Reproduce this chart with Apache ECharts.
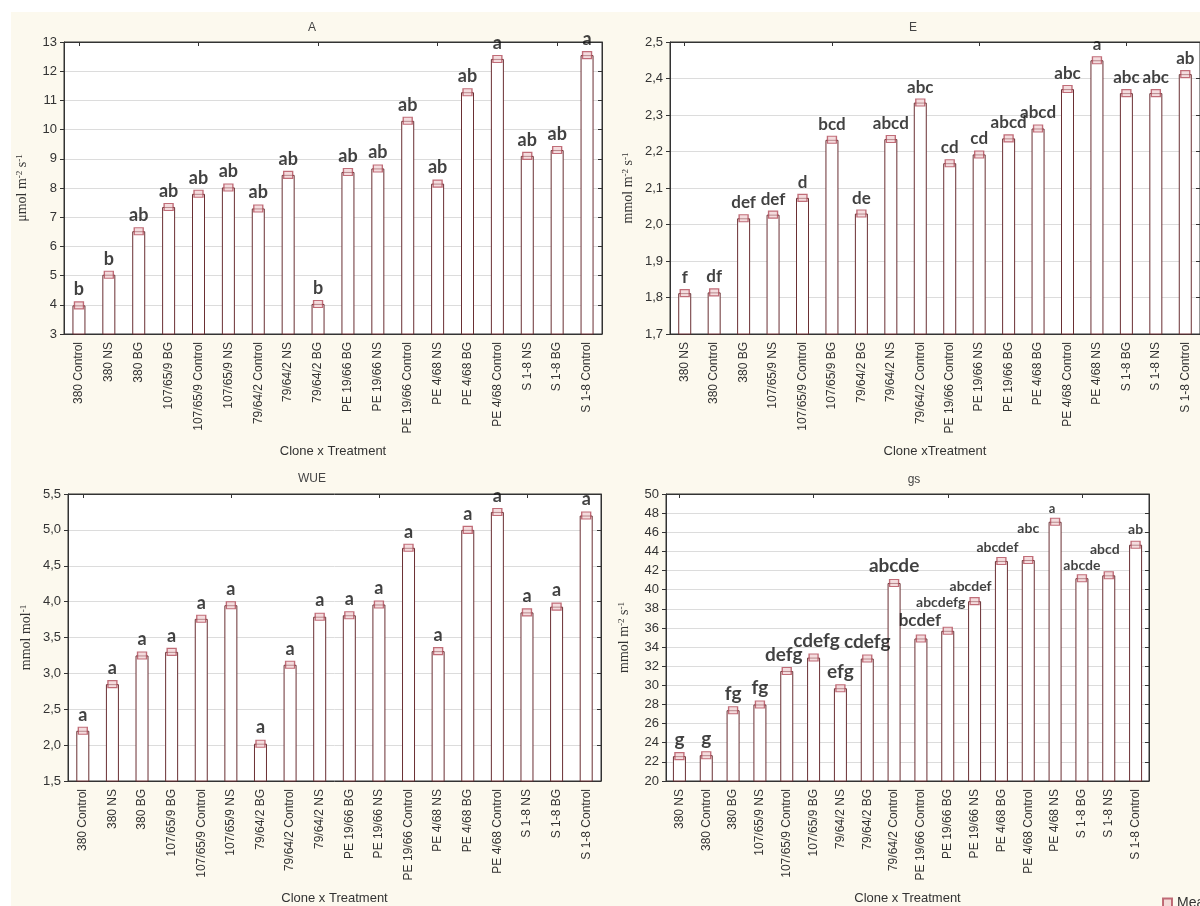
<!DOCTYPE html>
<html>
<head>
<meta charset="utf-8">
<script src="https://cdn.jsdelivr.net/npm/echarts@6/dist/echarts.min.js"></script>
<style>
  html, body { margin: 0; padding: 0; background: #ffffff; }
  #wrap { position: relative; width: 1200px; height: 906px; overflow: hidden; background: #ffffff; }
  #paper { position: absolute; left: 11px; top: 12px; right: 0; bottom: 0; background: #fcf9ee; }
  #chart { position: absolute; left: 0; top: 0; width: 1200px; height: 906px; }
</style>
</head>
<body>
<div id="wrap"><div id="paper"></div><div id="chart"></div></div>
<script>
// ---- A: net photosynthesis ----
const catA = ['380 Control', '380 NS', '380 BG', '107/65/9 BG', '107/65/9 Control', '107/65/9 NS',
  '79/64/2 Control', '79/64/2 NS', '79/64/2 BG', 'PE 19/66 BG', 'PE 19/66 NS', 'PE 19/66 Control',
  'PE 4/68 NS', 'PE 4/68 BG', 'PE 4/68 Control', 'S 1-8 NS', 'S 1-8 BG', 'S 1-8 Control'];
const valA = [3.98, 5.03, 6.52, 7.35, 7.8, 8.02, 7.3, 8.45, 4.03, 8.55, 8.67, 10.3, 8.15, 11.28, 12.42, 9.1, 9.3, 12.55];
const letA = ['b', 'b', 'ab', 'ab', 'ab', 'ab', 'ab', 'ab', 'b', 'ab', 'ab', 'ab', 'ab', 'ab', 'a', 'ab', 'ab', 'a'];

// ---- E: transpiration ----
const catE = ['380 NS', '380 Control', '380 BG', '107/65/9 NS', '107/65/9 Control', '107/65/9 BG',
  '79/64/2 BG', '79/64/2 NS', '79/64/2 Control', 'PE 19/66 Control', 'PE 19/66 NS', 'PE 19/66 BG',
  'PE 4/68 BG', 'PE 4/68 Control', 'PE 4/68 NS', 'S 1-8 BG', 'S 1-8 NS', 'S 1-8 Control'];
const valE = [1.812, 1.814, 2.017, 2.027, 2.073, 2.232, 2.03, 2.234, 2.334, 2.168, 2.192, 2.236, 2.263, 2.371, 2.45, 2.36, 2.36, 2.412];
const letE = ['f', 'df', 'def', 'def', 'd', 'bcd', 'de', 'abcd', 'abc', 'cd', 'cd', 'abcd', 'abcd', 'abc', 'a', 'abc', 'abc', 'ab'];

// ---- WUE: water use efficiency ----
const catW = ['380 Control', '380 NS', '380 BG', '107/65/9 BG', '107/65/9 Control', '107/65/9 NS',
  '79/64/2 BG', '79/64/2 Control', '79/64/2 NS', 'PE 19/66 BG', 'PE 19/66 NS', 'PE 19/66 Control',
  'PE 4/68 NS', 'PE 4/68 BG', 'PE 4/68 Control', 'S 1-8 NS', 'S 1-8 BG', 'S 1-8 Control'];
const valW = [2.2, 2.85, 3.25, 3.3, 3.76, 3.95, 2.02, 3.12, 3.79, 3.81, 3.96, 4.75, 3.31, 5.0, 5.25, 3.85, 3.93, 5.2];
const letW = ['a', 'a', 'a', 'a', 'a', 'a', 'a', 'a', 'a', 'a', 'a', 'a', 'a', 'a', 'a', 'a', 'a', 'a'];

// ---- gs: stomatal conductance ----
const catG = ['380 NS', '380 Control', '380 BG', '107/65/9 NS', '107/65/9 Control', '107/65/9 BG',
  '79/64/2 NS', '79/64/2 BG', '79/64/2 Control', 'PE 19/66 Control', 'PE 19/66 BG', 'PE 19/66 NS',
  'PE 4/68 BG', 'PE 4/68 Control', 'PE 4/68 NS', 'S 1-8 BG', 'S 1-8 NS', 'S 1-8 Control'];
const valG = [22.6, 22.7, 27.4, 28.0, 31.5, 32.9, 29.7, 32.8, 40.7, 34.9, 35.7, 38.8, 43.0, 43.1, 47.1, 41.2, 41.5, 44.7];
const letG = ['g', 'g', 'fg', 'fg', 'defg', 'cdefg', 'efg', 'cdefg', 'abcde', 'bcdef', 'abcdefg', 'abcdef', 'abcdef', 'abc', 'a', 'abcde', 'abcd', 'ab'];

// letter styling for the gs panel (font size, horizontal nudge, distance above mean)
const gsLetterSize = [19, 19, 19, 19, 19, 19, 19, 19, 19, 17, 14, 14, 14, 14, 13, 14, 14, 14];
const gsLetterDx   = [0, 0, 0, 0, -3, 3, 0, 0, 0, -1, -7, -4, -4, 0, -3, 0, -4, 0];
const gsLetterGap  = [3, 3, 3, 3, 3, 3, 3, 3, 4, 5, 17, 4, 2, 20, 2, 2, 15, 4];

const BAR_EDGE = '#6a2f33';
const AXIS = '#333333';
const LETTER_FONT = 'Lato, "Open Sans", sans-serif';
const SANS = '"Liberation Sans", Arial, sans-serif';
const SERIF = '"Liberation Serif", "Times New Roman", serif';

const panels = [
  { cats: catA, vals: valA, letters: letA, min: 3, max: 13, step: 1, dec: 0,
    unit: '{n|\u03bcmol m}{s|-2}{n| s}{s|-1}', xName: 'Clone x Treatment', title: 'A',
    grid: { left: 64, top: 42, width: 538, height: 292 }, titlePos: [312, 28], letterSize: 18 },
  { cats: catE, vals: valE, letters: letE, min: 1.7, max: 2.5, step: 0.1, dec: 1,
    unit: '{n|mmol m}{s|-2}{n| s}{s|-1}', xName: 'Clone xTreatment', title: 'E',
    grid: { left: 670, top: 42, width: 533, height: 292 }, titlePos: [913, 28], letterSize: 17 },
  { cats: catW, vals: valW, letters: letW, min: 1.5, max: 5.5, step: 0.5, dec: 1,
    unit: '{n|mmol mol}{s|-1}', xName: 'Clone x Treatment', title: 'WUE',
    grid: { left: 68, top: 494, width: 533, height: 292 }, titlePos: [312, 479], letterSize: 18 },
  { cats: catG, vals: valG, letters: letG, min: 20, max: 50, step: 2, dec: 0,
    unit: '{n|mmol m}{s|-2}{n| s}{s|-1}', xName: 'Clone x Treatment', title: 'gs',
    grid: { left: 666, top: 494, width: 483, height: 292 }, titlePos: [914, 480], letterSize: 19 }
];

const grid = [], xAxis = [], yAxis = [], series = [], graphic = [];

panels.forEach((p, i) => {
  grid.push(Object.assign({ show: true, backgroundColor: '#ffffff', borderColor: AXIS, borderWidth: 1 }, p.grid));

  // bottom category axis with labels
  xAxis.push({
    type: 'category', gridIndex: i, data: p.cats, position: 'bottom',
    axisLine: { show: true, lineStyle: { color: AXIS, width: 1 } },
    axisTick: { show: true, inside: true, alignWithLabel: true, length: 4, lineStyle: { color: AXIS } },
    axisLabel: { interval: 0, rotate: 90, margin: 8, fontSize: 12, color: '#333', fontFamily: SANS },
    name: p.xName, nameLocation: 'middle', nameGap: 111,
    nameTextStyle: { fontSize: 13, color: '#333', fontFamily: SANS },
    splitLine: { show: false }
  });
  // top frame axis carrying inward ticks only
  xAxis.push({
    type: 'category', gridIndex: i, data: p.cats, position: 'top',
    axisLine: { show: true, lineStyle: { color: AXIS, width: 1 } },
    axisTick: { show: true, inside: true, alignWithLabel: true, length: 4, lineStyle: { color: AXIS } },
    axisLabel: { show: false }, splitLine: { show: false }
  });

  const fmt = v => v.toFixed(p.dec).replace('.', ',');
  yAxis.push({
    type: 'value', gridIndex: i, position: 'left', min: p.min, max: p.max, interval: p.step,
    axisLine: { show: true, lineStyle: { color: AXIS, width: 1 } },
    axisTick: { show: true, inside: false, length: 4, lineStyle: { color: AXIS } },
    axisLabel: { formatter: fmt, margin: 7, fontSize: 13, color: '#333', fontFamily: SANS },
    splitLine: { show: true, lineStyle: { color: '#dcdcdc', width: 1 } },
    name: p.unit, nameLocation: 'middle', nameRotate: 90, nameGap: 35,
    nameTextStyle: {
      color: '#333', fontFamily: SERIF, fontSize: 14,
      rich: {
        n: { fontFamily: SERIF, fontSize: 14, color: '#333' },
        s: { fontFamily: SERIF, fontSize: 9, color: '#333', verticalAlign: 'top' }
      }
    }
  });
  // right frame axis carrying inward ticks only
  yAxis.push({
    type: 'value', gridIndex: i, position: 'right', min: p.min, max: p.max, interval: p.step,
    axisLine: { show: true, lineStyle: { color: AXIS, width: 1 } },
    axisTick: { show: true, inside: true, length: 4, lineStyle: { color: AXIS } },
    axisLabel: { show: false }, splitLine: { show: false }
  });

  series.push({
    type: 'bar', xAxisIndex: 2 * i, yAxisIndex: 2 * i, data: p.vals, barWidth: 13, silent: true, z: 2,
    itemStyle: { color: '#ffffff', borderColor: BAR_EDGE, borderWidth: 1 }
  });

  const pts = p.vals.map((v, k) => {
    if (i !== 3) return v;
    return { value: v, label: { fontSize: gsLetterSize[k], offset: [gsLetterDx[k], 0], distance: gsLetterGap[k] } };
  });
  series.push({
    type: 'scatter', name: 'Mean', xAxisIndex: 2 * i, yAxisIndex: 2 * i, data: pts, z: 3,
    symbol: 'rect', symbolSize: [9, 7],
    itemStyle: { color: 'rgba(236,196,200,0.75)', borderColor: '#b24c5a', borderWidth: 1.2 },
    label: {
      show: true, position: 'top', distance: 3,
      formatter: prm => p.letters[prm.dataIndex],
      fontFamily: LETTER_FONT, fontWeight: 'bold', fontSize: p.letterSize, color: '#111'
    }
  });

  graphic.push({
    type: 'text', x: p.titlePos[0], y: p.titlePos[1], silent: true,
    style: { text: p.title, align: 'center', verticalAlign: 'middle', textAlign: 'center', textVerticalAlign: 'middle',
      fontSize: 12, fontFamily: SANS, fill: '#444' }
  });
});

const chart = echarts.init(document.getElementById('chart'), null, { renderer: 'canvas' });
chart.setOption({
  backgroundColor: 'transparent',
  animation: false,
  grid, xAxis, yAxis, series, graphic,
  legend: {
    data: ['Mean'], left: 1157, top: 891, itemWidth: 9, itemHeight: 9, itemGap: 4,
    textStyle: { fontSize: 14, color: '#333', fontFamily: SANS }
  }
});
</script>
</body>
</html>
